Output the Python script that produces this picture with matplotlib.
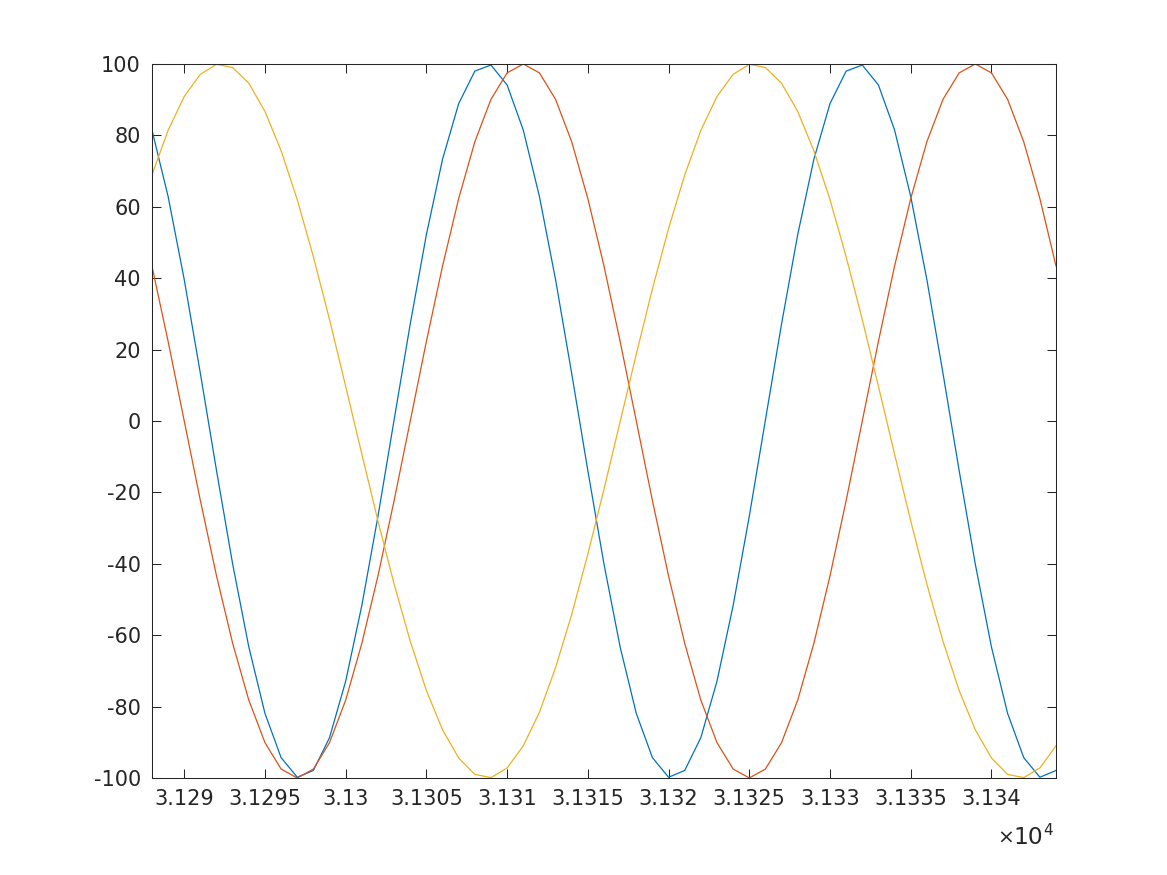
import matplotlib
matplotlib.use("Agg")
import matplotlib.pyplot as plt
import numpy as np

# sample positions (one sample per integer step)
x_start = 31288
x_stop = 31344

# blue series (repeats every 23 samples)
blue_cycle = [81.5, 62.9, 39.6, 13.3, -13.9, -40.1, -63.3, -81.9, -94.3, -99.8,
              -97.9, -88.7, -72.9, -51.7, -26.7, 0.3, 27.2, 52.2, 73.3, 88.9,
              98.0, 99.7, 94.1]
# orange series (repeats every 28 samples)
orange_cycle = [43.4, 22.3, 0.0, -22.3, -43.4, -62.3, -78.2, -90.1, -97.5, -100.0,
                -97.5, -90.1, -78.2, -62.3, -43.4, -22.3, 0.0, 22.3, 43.4, 62.3,
                78.2, 90.1, 97.5, 100.0, 97.5, 90.1, 78.2, 62.3]
# yellow series (repeats every 33 samples)
yellow_cycle = [68.9, 81.4, 90.9, 97.1, 99.9, 99.0, 94.6, 86.7, 75.7, 62.0,
                46.0, 28.4, 9.7, -9.3, -28.0, -45.7, -61.7, -75.5, -86.5, -94.4,
                -99.0, -99.9, -97.2, -91.0, -81.6, -69.1, -54.2, -37.3, -19.1, -0.2,
                18.7, 37.0, 53.9]

xtick_vals = [31290, 31295, 31300, 31305, 31310, 31315, 31320, 31325, 31330, 31335, 31340]
xtick_labels = ["3.129", "3.1295", "3.13", "3.1305", "3.131", "3.1315",
                "3.132", "3.1325", "3.133", "3.1335", "3.134"]
ytick_vals = [-100, -80, -60, -40, -20, 0, 20, 40, 60, 80, 100]

x = np.arange(x_start, x_stop + 1)
n = len(x)
blue = (blue_cycle * 3)[:n]
orange = (orange_cycle * 3)[:n]
yellow = (yellow_cycle * 2)[:n]

plt.rcParams["axes.unicode_minus"] = False
plt.rcParams["font.family"] = "DejaVu Sans"

fig = plt.figure(figsize=(11.67, 8.75), dpi=100)
ax = fig.add_axes([0.1302, 0.1109, 0.7747, 0.816])

ax.plot(x, blue, color="#0072BD", lw=0.9)
ax.plot(x, orange, color="#D95319", lw=0.9)
ax.plot(x, yellow, color="#EDB120", lw=0.9)

ax.set_xlim(x_start, x_stop)
ax.set_ylim(-100, 100)
ax.set_xticks(xtick_vals)
ax.set_xticklabels(xtick_labels)
ax.set_yticks(ytick_vals)

dark = "#262626"
for s in ax.spines.values():
    s.set_color(dark)
    s.set_linewidth(0.75)
ax.tick_params(direction="in", length=6.5, width=0.75, colors=dark,
               labelsize=15, top=True, right=True, pad=8)

# exponent label under the right end of the x axis (x10^4), offsets in points
def corner_text(s, dx, dy, size, ha):
    ax.annotate(s, xy=(1, 0), xycoords="axes fraction", xytext=(dx, dy),
                textcoords="offset points", ha=ha, va="baseline",
                fontsize=size, color=dark)

corner_text("\u00d7", -30.5, -47.5, 14.5, "right")
corner_text("10", -9.4, -47.5, 16.8, "right")
corner_text("4", -9.2, -41, 11, "left")

fig.savefig("out.png", dpi=100)
